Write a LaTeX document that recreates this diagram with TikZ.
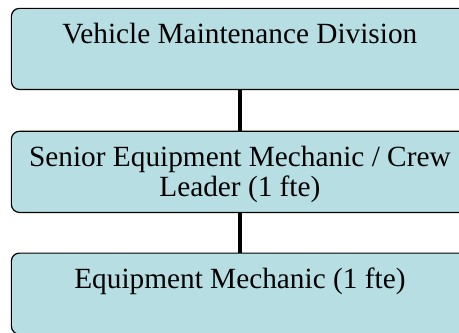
\documentclass[tikz,border=0pt]{standalone}
\usepackage{fontspec}
\setmainfont{Liberation Serif}
\usepackage{tikz}
\usetikzlibrary{positioning}

\definecolor{boxfill}{RGB}{183,223,227}
% taller strut for the first line of each box
\newcommand{\topstrut}{\rule{0pt}{28pt}}

\begin{document}
\begin{tikzpicture}[
    orgbox/.style={draw=black, line width=1.2pt, rectangle, rounded corners=8pt, fill=boxfill,
        minimum width=16.06cm, minimum height=2.85cm, align=center,
        font=\fontsize{29.3}{30}\selectfont},
    link/.style={line width=4.5pt, black}
]
    \useasboundingbox (0,0) rectangle (16.13,11.67);
    \node[orgbox] (division) at (8.43,9.95) {\topstrut Vehicle Maintenance Division\\ \strut};
    \node[orgbox] (senior) at (8.43,5.63) {\topstrut Senior Equipment Mechanic / Crew\\ \strut Leader (1 fte)};
    \node[orgbox] (mechanic) at (8.43,1.35) {\topstrut Equipment Mechanic (1 fte)\\ \strut};
    \draw[link] (division) -- (senior);
    \draw[link] (senior) -- (mechanic);
\end{tikzpicture}
\end{document}
